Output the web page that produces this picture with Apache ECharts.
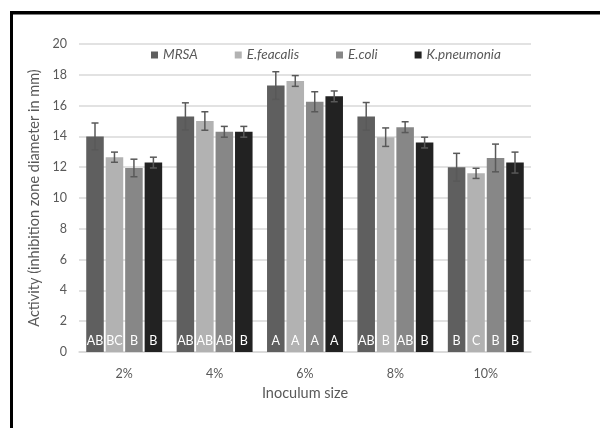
<!DOCTYPE html>
<html>
<head>
<meta charset="utf-8">
<script src="https://cdn.jsdelivr.net/npm/echarts@6/dist/echarts.min.js"></script>
<style>html,body{margin:0;padding:0;background:#fff;}#c{width:600px;height:428px;}</style>
</head>
<body>
<div id="c"></div>
<script>
const categories = ['2%', '4%', '6%', '8%', '10%'];
const seriesNames = ['MRSA', 'E.feacalis', 'E.coli', 'K.pneumonia'];
const mrsa = [14.0, 15.3, 17.3, 15.3, 12.0];
const mrsaErr = [0.87, 0.88, 0.9, 0.9, 0.9];
const feacalis = [12.65, 15.0, 17.6, 13.95, 11.6];
const feacalisErr = [0.33, 0.6, 0.35, 0.6, 0.33];
const coli = [11.95, 14.3, 16.25, 14.6, 12.6];
const coliErr = [0.57, 0.35, 0.65, 0.35, 0.9];
const kpn = [12.3, 14.3, 16.6, 13.6, 12.3];
const kpnErr = [0.35, 0.35, 0.35, 0.35, 0.68];
const mrsaLetters = ['AB', 'AB', 'A', 'AB', 'B'];
const feacalisLetters = ['BC', 'AB', 'A', 'B', 'C'];
const coliLetters = ['B', 'AB', 'A', 'AB', 'B'];
const kpnLetters = ['B', 'B', 'A', 'B', 'B'];
const yTicks = [0, 2, 4, 6, 8, 10, 12, 14, 16, 18, 20];

const values = [mrsa, feacalis, coli, kpn];
const errs = [mrsaErr, feacalisErr, coliErr, kpnErr];
const letters = [mrsaLetters, feacalisLetters, coliLetters, kpnLetters];
const colors = ['#5f5f5f', '#b2b2b2', '#878787', '#222222'];
const CAT_GAP = 0.16, BAR_GAP = 0.11;
const FONT = 'Lato';

const series = [];
values.forEach((vals, s) => {
  series.push({
    name: seriesNames[s],
    type: 'bar',
    data: vals,
    barGap: (BAR_GAP * 100) + '%',
    barCategoryGap: (CAT_GAP * 100) + '%',
    itemStyle: { color: colors[s] },
    label: {
      show: true,
      position: 'insideBottom',
      distance: 5,
      color: '#ffffff',
      fontSize: 12.5,
      fontFamily: FONT,
      formatter: p => letters[s][p.dataIndex]
    },
    emphasis: { disabled: true },
    z: 2
  });
});
values.forEach((vals, s) => {
  series.push({
    type: 'custom',
    name: 'err' + s,
    data: vals.map((v, i) => [i, v, errs[s][i]]),
    z: 5,
    silent: true,
    renderItem: (params, api) => {
      const idx = api.value(0), v = api.value(1), e = api.value(2);
      const band = api.size([1, 0])[0];
      const rem = band * (1 - CAT_GAP);
      const bw = rem / (4 + 3 * BAR_GAP);
      const cx = api.coord([idx, 0])[0] - rem / 2 + s * bw * (1 + BAR_GAP) + bw / 2;
      const yt = api.coord([idx, v + e])[1];
      const yb = api.coord([idx, v - e])[1];
      const st = { stroke: '#595959', lineWidth: 1.5 };
      const cap = 3.5;
      return {
        type: 'group',
        children: [
          { type: 'line', shape: { x1: cx, y1: yt, x2: cx, y2: yb }, style: st },
          { type: 'line', shape: { x1: cx - cap, y1: yt, x2: cx + cap, y2: yt }, style: st },
          { type: 'line', shape: { x1: cx - cap, y1: yb, x2: cx + cap, y2: yb }, style: st }
        ]
      };
    }
  });
});

const chart = echarts.init(document.getElementById('c'), null, { renderer: 'canvas' });
chart.setOption({
  animation: false,
  backgroundColor: '#ffffff',
  textStyle: { fontFamily: FONT },
  graphic: [
    { type: 'rect', shape: { x: 10, y: 11, width: 590, height: 3.5 }, style: { fill: '#000' }, z: 100 },
    { type: 'rect', shape: { x: 10, y: 11, width: 3, height: 417 }, style: { fill: '#000' }, z: 100 }
  ],
  legend: {
    data: seriesNames,
    left: 146,
    top: 43,
    itemWidth: 7,
    itemHeight: 7,
    itemGap: 37,
    icon: 'rect',
    textStyle: { fontStyle: 'italic', fontSize: 13.5, color: '#595959', fontFamily: FONT },
    selectedMode: false
  },
  grid: { left: 79, right: 69, top: 44, bottom: 76, containLabel: false },
  xAxis: {
    type: 'category',
    data: categories,
    axisLine: { lineStyle: { color: '#d9d9d9', width: 1.5 } },
    axisTick: { show: false },
    axisLabel: { color: '#595959', fontSize: 12.5, margin: 15, fontFamily: FONT },
    name: 'Inoculum size',
    nameLocation: 'middle',
    nameGap: 34,
    nameTextStyle: { color: '#595959', fontSize: 14.5, fontFamily: FONT }
  },
  yAxis: {
    type: 'value',
    min: yTicks[0],
    max: yTicks[yTicks.length - 1],
    interval: yTicks[1] - yTicks[0],
    axisLine: { show: false },
    axisTick: { show: false },
    splitLine: { lineStyle: { color: '#d9d9d9', width: 1.5 } },
    axisLabel: { color: '#595959', fontSize: 12.5, margin: 12, fontFamily: FONT },
    name: 'Activity (inhibition zone diameter in mm)',
    nameLocation: 'middle',
    nameGap: 34,
    nameTextStyle: { color: '#595959', fontSize: 14.5, fontFamily: FONT }
  },
  series: series
});
</script>
</body>
</html>
